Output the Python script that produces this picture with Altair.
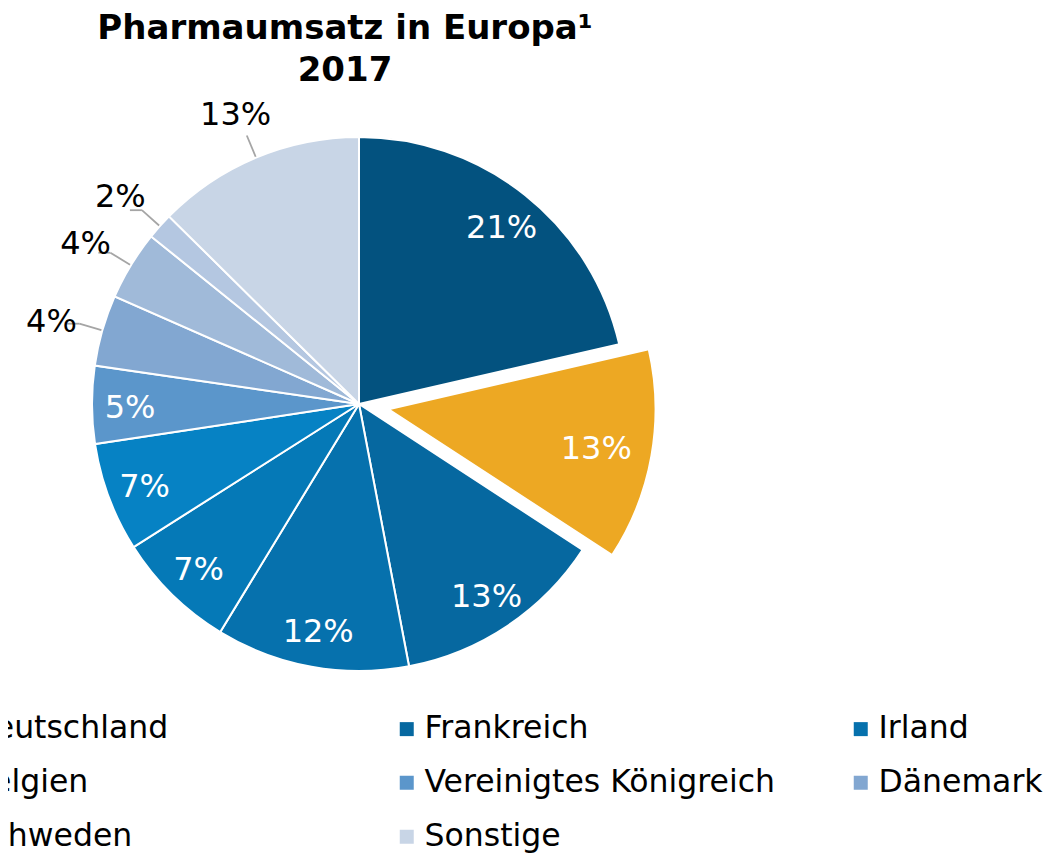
import math
import altair as alt
import pandas as pd

# ---- data ----
countries = ["Deutschland", "Schweiz", "Frankreich", "Irland", "Italien", "Belgien",
             "Vereinigtes Königreich", "Dänemark", "Niederlande", "Schweden", "Sonstige"]
shares = [21.4, 12.8, 12.8, 11.7, 7.3, 6.6, 4.7, 4.3, 4.2, 1.6, 12.6]
colors = ["#03527f", "#eda823", "#0668a0", "#0671ad", "#0579b7", "#0682c4",
          "#5b96cb", "#82a7d1", "#a0bad9", "#b4c7e1", "#c8d5e6"]
legend_names = ["Deutschland", "Frankreich", "Irland", "Belgien",
                "Vereinigtes Königreich", "Dänemark", "Schweden", "Sonstige"]
outside_names = ["Dänemark", "Niederlande", "Schweden", "Sonstige"]
exploded_name = "Schweiz"
title_lines = ["Pharmaumsatz in Europa¹", "2017"]

# ---- layout ----
W, H = 702, 610
PAD = {"left": 0, "top": 91, "right": 335, "bottom": 146}
R = 267
R_IN = 229
R_OUT = 320
EXPLODE = 30
FONT = "DejaVu Sans"

total = sum(shares)
df = pd.DataFrame({"land": countries, "anteil": shares, "ord": list(range(len(countries)))})

# explosion offset derived from the data
idx = countries.index(exploded_name)
mid_frac = (sum(shares[:idx]) + shares[idx] / 2) / total
ang = 2 * math.pi * mid_frac
ex_dx = EXPLODE * math.sin(ang)
ex_dy = -EXPLODE * math.cos(ang)

theta_scale = alt.Scale(domain=[0, total], range=[0, 2 * math.pi])

base = (
    alt.Chart(df)
    .transform_window(cum="sum(anteil)", sort=[alt.SortField("ord")], frame=[None, 0])
    .transform_calculate(
        start="datum.cum - datum.anteil",
        mid="datum.cum - datum.anteil / 2",
        label="format(datum.anteil, '.0f') + '%'",
    )
)

color_enc = alt.Color(
    "land:N",
    scale=alt.Scale(domain=countries, range=colors),
    legend=alt.Legend(
        orient="none", legendX=-71, legendY=614, columns=3, direction="horizontal",
        title=None, values=legend_names, symbolType="square", symbolSize=196,
        symbolStrokeWidth=0, labelFont=FONT, labelFontSize=31.5, labelColor="black",
        labelOffset=2, labelLimit=600, rowPadding=21, columnPadding=70,
        gridAlign="all", padding=0,
    ),
)

arc_enc = dict(
    theta=alt.Theta("start:Q", scale=theta_scale, stack=None),
    theta2="cum:Q",
    color=color_enc,
)

arcs = base.transform_filter(alt.datum.land != exploded_name).mark_arc(
    outerRadius=R, stroke="white", strokeWidth=2
).encode(**arc_enc)

arc_ex = base.transform_filter(alt.datum.land == exploded_name).mark_arc(
    outerRadius=R, stroke="white", strokeWidth=2, xOffset=ex_dx, yOffset=ex_dy
).encode(**arc_enc)

is_out = alt.FieldOneOfPredicate(field="land", oneOf=outside_names)

lab_in = base.transform_filter(~is_out).transform_filter(
    alt.datum.land != exploded_name
).mark_text(font=FONT, fontSize=32, color="white", align="center", baseline="middle", dy=3).encode(
    theta=alt.Theta("mid:Q", scale=theta_scale, stack=None),
    radius=alt.value(R_IN),
    text="label:N",
)

lab_ex = base.transform_filter(alt.datum.land == exploded_name).mark_text(
    font=FONT, fontSize=32, color="white", align="center", baseline="middle",
    dx=ex_dx, dy=ex_dy + 3,
).encode(
    theta=alt.Theta("mid:Q", scale=theta_scale, stack=None),
    radius=alt.value(R_IN - 18),
    text="label:N",
)

lab_out = base.transform_filter(is_out).mark_text(
    font=FONT, fontSize=32, color="black", align="center", baseline="middle", dy=6
).encode(
    theta=alt.Theta("mid:Q", scale=theta_scale, stack=None),
    radius=alt.value(R_OUT),
    text="label:N",
)

cx, cy = W / 2, H / 2
lead = base.transform_filter(is_out).transform_calculate(
    a=f"datum.mid / {total} * 2 * PI",
).transform_calculate(
    x1=f"{cx} + {R + 1} * sin(datum.a)",
    y1=f"{cy} - {R + 1} * cos(datum.a)",
    x2=f"{cx} + {R + 24} * sin(datum.a)",
    y2=f"{cy} - {R + 24} * cos(datum.a)",
).transform_calculate(
    x3="sin(datum.a) < -0.6 ? datum.x2 - 12 : datum.x2",
)

lead1 = lead.mark_rule(color="#a5a5a5", strokeWidth=1.8).encode(
    x=alt.X("x1:Q", scale=None), y=alt.Y("y1:Q", scale=None),
    x2="x2:Q", y2="y2:Q",
)
lead2 = lead.mark_rule(color="#a5a5a5", strokeWidth=1.8).encode(
    x=alt.X("x2:Q", scale=None), y=alt.Y("y2:Q", scale=None),
    x2="x3:Q", y2="y2:Q",
)

chart = (
    alt.layer(arcs, arc_ex, lead1, lead2, lab_in, lab_ex, lab_out)
    .properties(
        width=W, height=H,
        padding=PAD,
        autosize=alt.AutoSizeParams(type="none"),
        title=alt.TitleParams(
            text=title_lines, font=FONT, fontSize=34, fontWeight="bold",
            color="black", anchor="middle", dx=-14, lineHeight=42, offset=11,
        ),
        background="white",
    )
    .configure_view(stroke=None)
)

chart.save("out.html", embed_options={"renderer": "svg", "actions": False})
